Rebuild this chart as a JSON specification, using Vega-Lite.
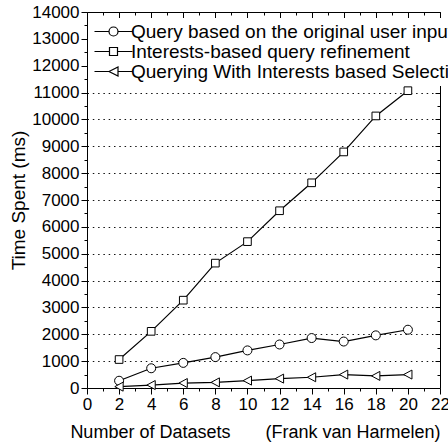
{
  "$schema": "https://vega.github.io/schema/vega-lite/v6.json",
  "width": 353,
  "height": 376,
  "autosize": {"type": "none"},
  "padding": {"left": 87, "top": 12, "right": 8, "bottom": 58},
  "config": {
    "view": {"stroke": "#000", "strokeWidth": 1},
    "font": "Liberation Sans",
    "axis": {
      "domain": false,
      "grid": false,
      "tickColor": "#000",
      "tickWidth": 1,
      "labelColor": "#000",
      "labelFont": "Liberation Sans",
      "labelFontSize": 17,
      "titleFont": "Liberation Sans",
      "titleFontSize": 18,
      "titleFontWeight": "normal",
      "titleColor": "#000",
      "labelOverlap": false,
      "labelFlush": false
    }
  },
  "data": {
    "values": [
      {"x": 2, "series": "Query based on the original user inputs", "value": 270},
      {"x": 4, "series": "Query based on the original user inputs", "value": 735},
      {"x": 6, "series": "Query based on the original user inputs", "value": 935},
      {"x": 8, "series": "Query based on the original user inputs", "value": 1150},
      {"x": 10, "series": "Query based on the original user inputs", "value": 1400},
      {"x": 12, "series": "Query based on the original user inputs", "value": 1620},
      {"x": 14, "series": "Query based on the original user inputs", "value": 1860},
      {"x": 16, "series": "Query based on the original user inputs", "value": 1730},
      {"x": 18, "series": "Query based on the original user inputs", "value": 1960},
      {"x": 20, "series": "Query based on the original user inputs", "value": 2170},
      {"x": 2, "series": "Interests-based query refinement", "value": 1060},
      {"x": 4, "series": "Interests-based query refinement", "value": 2110},
      {"x": 6, "series": "Interests-based query refinement", "value": 3270},
      {"x": 8, "series": "Interests-based query refinement", "value": 4650},
      {"x": 10, "series": "Interests-based query refinement", "value": 5450},
      {"x": 12, "series": "Interests-based query refinement", "value": 6600},
      {"x": 14, "series": "Interests-based query refinement", "value": 7640},
      {"x": 16, "series": "Interests-based query refinement", "value": 8790},
      {"x": 18, "series": "Interests-based query refinement", "value": 10130},
      {"x": 20, "series": "Interests-based query refinement", "value": 11070},
      {"x": 2, "series": "Querying With Interests based Selection", "value": 50},
      {"x": 4, "series": "Querying With Interests based Selection", "value": 110},
      {"x": 6, "series": "Querying With Interests based Selection", "value": 185},
      {"x": 8, "series": "Querying With Interests based Selection", "value": 210},
      {"x": 10, "series": "Querying With Interests based Selection", "value": 275},
      {"x": 12, "series": "Querying With Interests based Selection", "value": 350},
      {"x": 14, "series": "Querying With Interests based Selection", "value": 400},
      {"x": 16, "series": "Querying With Interests based Selection", "value": 500},
      {"x": 18, "series": "Querying With Interests based Selection", "value": 450},
      {"x": 20, "series": "Querying With Interests based Selection", "value": 500}
    ]
  },
  "layer": [
    {
      "mark": {"type": "point", "opacity": 0},
      "encoding": {
        "x": {"field": "x", "type": "quantitative", "scale": {"domain": [0, 22], "nice": false, "zero": false}, "axis": null},
        "y": {"field": "value", "type": "quantitative", "scale": {"domain": [0, 14000], "nice": false},
          "axis": {"orient": "left", "values": [1000, 2000, 3000, 4000, 5000, 6000, 7000, 8000, 9000, 10000, 11000], "grid": true, "gridColor": "#111", "gridDash": [1.5, 3.8], "gridWidth": 1, "ticks": false, "labels": false, "title": null}}
      }
    },
    {
      "mark": {"type": "line", "color": "#000", "strokeWidth": 1.2},
      "encoding": {
        "x": {"field": "x", "type": "quantitative", "scale": {"domain": [0, 22], "nice": false, "zero": false},
          "axis": {"orient": "bottom", "values": [0, 2, 4, 6, 8, 10, 12, 14, 16, 18, 20, 22], "tickSize": 6, "labelPadding": 2, "title": "Number of Datasets\u00a0\u00a0\u00a0\u00a0\u00a0\u00a0\u00a0(Frank van Harmelen)", "titleAnchor": "end", "titlePadding": 11}},
        "y": {"field": "value", "type": "quantitative", "scale": {"domain": [0, 14000], "nice": false},
          "axis": {"orient": "left", "format": "d", "values": [0, 1000, 2000, 3000, 4000, 5000, 6000, 7000, 8000, 9000, 10000, 11000, 12000, 13000, 14000], "tickSize": 6, "labelPadding": 2, "title": "Time Spent (ms)", "titleFontSize": 19, "titlePadding": 3}},
        "detail": {"field": "series", "type": "nominal"}
      }
    },
    {
      "mark": {"type": "point", "filled": true, "fill": "#fff", "stroke": "#000", "strokeWidth": 1, "size": 81, "opacity": 1},
      "encoding": {
        "x": {"field": "x", "type": "quantitative", "scale": {"domain": [0, 22], "nice": false, "zero": false},
          "axis": {"orient": "bottom", "values": [1, 3, 5, 7, 9, 11, 13, 15, 17, 19, 21], "tickSize": 3, "labels": false, "title": null}},
        "y": {"field": "value", "type": "quantitative", "scale": {"domain": [0, 14000], "nice": false},
          "axis": {"orient": "left", "values": [500, 1500, 2500, 3500, 4500, 5500, 6500, 7500, 8500, 9500, 10500, 11500, 12500, 13500], "tickSize": 3, "labels": false, "title": null}},
        "shape": {"field": "series", "type": "nominal",
          "scale": {"domain": ["Query based on the original user inputs", "Interests-based query refinement", "Querying With Interests based Selection"],
            "range": ["M-1,0A1,1,0,1,1,1,0A1,1,0,1,1,-1,0Z", "M-0.85,-0.85H0.85V0.85H-0.85Z", "M-0.95,0L0.9,-1L0.9,1Z"]},
          "legend": null}
      }
    },
    {
      "mark": {"type": "point", "opacity": 0},
      "encoding": {
        "x": {"field": "x", "type": "quantitative", "scale": {"domain": [0, 22], "nice": false, "zero": false},
          "axis": {"orient": "top", "values": [0, 2, 4, 6, 8, 10, 12, 14, 16, 18, 20, 22], "tickSize": -6, "labels": false, "title": null}},
        "y": {"field": "value", "type": "quantitative", "scale": {"domain": [0, 14000], "nice": false},
          "axis": {"orient": "right", "values": [0, 1000, 2000, 3000, 4000, 5000, 6000, 7000, 8000, 9000, 10000, 11000, 12000, 13000, 14000], "tickSize": -5, "labels": false, "title": null}},
        "shape": {"field": "series", "type": "nominal",
          "scale": {"domain": ["Query based on the original user inputs", "Interests-based query refinement", "Querying With Interests based Selection"],
            "range": ["M-3.8,0H-0.9M0.9,0H3.8M-0.9,0A0.9,0.9,0,1,1,0.9,0A0.9,0.9,0,1,1,-0.9,0Z", "M-3.8,0H-0.8M0.8,0H3.8M-0.8,-0.8H0.8V0.8H-0.8Z", "M-3.8,0H-0.9M0.9,0H3.8M-0.9,0L0.9,-0.9L0.9,0.9Z"]},
          "legend": {"title": null, "orient": "top-left", "offset": 6, "padding": 4, "fillColor": "#fff", "symbolSize": 100, "symbolFillColor": "#fff", "symbolStrokeColor": "#000", "symbolStrokeWidth": 1.2, "symbolOpacity": 1, "symbolOffset": 7, "labelOffset": 8, "labelFontSize": 19, "labelFont": "Liberation Sans", "labelColor": "#000", "labelLimit": 0, "rowPadding": 0}}
      }
    },
    {
      "mark": {"type": "point", "opacity": 0},
      "encoding": {
        "x": {"field": "x", "type": "quantitative", "scale": {"domain": [0, 22], "nice": false, "zero": false},
          "axis": {"orient": "top", "values": [1, 3, 5, 7, 9, 11, 13, 15, 17, 19, 21], "tickSize": -3, "labels": false, "title": null}},
        "y": {"field": "value", "type": "quantitative", "scale": {"domain": [0, 14000], "nice": false},
          "axis": {"orient": "right", "values": [500, 1500, 2500, 3500, 4500, 5500, 6500, 7500, 8500, 9500, 10500, 11500, 12500, 13500], "tickSize": -3, "labels": false, "title": null}}
      }
    }
  ],
  "resolve": {
    "scale": {"shape": "independent"},
    "axis": {"x": "independent", "y": "independent"}
  }
}
